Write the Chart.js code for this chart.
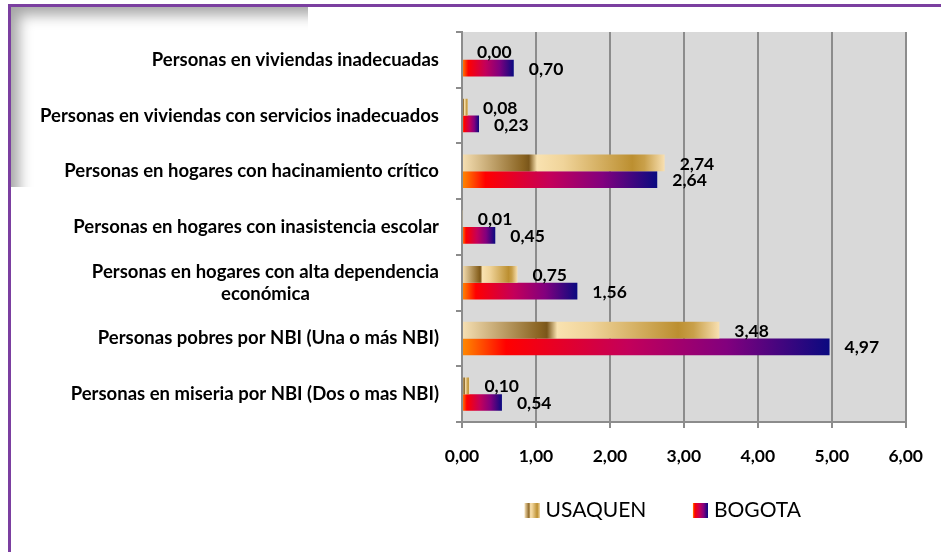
<!DOCTYPE html>
<html>
<head>
<meta charset="utf-8">
<script src="https://cdn.jsdelivr.net/npm/chart.js@4/dist/chart.umd.min.js"></script>
<style>
    html, body { margin: 0; padding: 0; background: #fff; }
    .frame { position: relative; width: 941px; height: 552px; overflow: hidden; }
    .frame .top-line { position: absolute; left: 8px; top: 4px; right: 0; height: 3px; background: #7b3fa0; }
    .frame .left-line { position: absolute; left: 8px; top: 4px; bottom: 0; width: 3px; background: #7b3fa0; }
    .frame .shade {
        position: absolute; left: 11px; top: 7px; width: 297px; height: 180px;
        box-shadow: inset 14px 14px 14px -6px rgba(0, 0, 0, 0.35);
    }
    canvas { position: absolute; left: 0; top: 0; }
</style>
</head>
<body>
<div class="frame">
    <div class="shade"></div>
    <div class="top-line"></div>
    <div class="left-line"></div>
    <canvas id="chart" width="941" height="552"></canvas>
</div>
<script>
const categories = [
    'Personas en viviendas inadecuadas',
    'Personas en viviendas con servicios inadecuados',
    'Personas en hogares con hacinamiento crítico',
    'Personas en hogares con inasistencia escolar',
    ['Personas en hogares con alta dependencia', 'económica'],
    'Personas pobres por NBI (Una o más NBI)',
    'Personas en miseria por NBI (Dos o mas NBI)',
];
const usaquen = [0.00, 0.08, 2.74, 0.01, 0.75, 3.48, 0.10];
const bogota = [0.70, 0.23, 2.64, 0.45, 1.56, 4.97, 0.54];
const seriesNames = ['USAQUEN', 'BOGOTA'];

const FONT = 'Lato, "Open Sans", sans-serif';

// colour stops along each bar (0 = axis, 1 = bar end)
const GOLD_STOPS = [
    [0, '#f6e0b4'], [0.30, '#8a6422'], [0.33, '#7a561a'], [0.37, '#f9e2b0'],
    [0.50, '#f0d49a'], [0.84, '#bc8f30'], [0.90, '#c9a04a'], [1, '#f8e0b2'],
];
const FIRE_STOPS = [
    [0, '#ff8a00'], [0.12, '#ff0000'], [0.45, '#c4005a'], [0.72, '#82007e'], [1, '#0a0a80'],
];

const fmt = (v) => v.toFixed(2).replace('.', ',');

function barGradient(stops) {
    return (ctx) => {
        const chart = ctx.chart;
        if (!chart.chartArea || ctx.type !== 'data') return stops[0][1];
        const x = chart.scales.x;
        const x0 = x.getPixelForValue(0);
        const x1 = Math.max(x.getPixelForValue(ctx.raw), x0 + 1);
        const g = chart.ctx.createLinearGradient(x0, 0, x1, 0);
        stops.forEach(([p, c]) => g.addColorStop(p, c));
        return g;
    };
}

// legend swatch: 15px square on the right of a wider transparent image (sets the spacing)
function swatch(stops) {
    const c = document.createElement('canvas');
    c.width = 38;
    c.height = 15;
    const cx = c.getContext('2d');
    const g = cx.createLinearGradient(23, 0, 38, 0);
    stops.forEach(([p, col]) => g.addColorStop(p, col));
    cx.fillStyle = g;
    cx.fillRect(23, 0, 15, 15);
    return c;
}

const plotBackground = {
    id: 'plotBackground',
    beforeDraw(chart) {
        const { ctx, chartArea: a } = chart;
        ctx.save();
        ctx.fillStyle = '#d9d9d9';
        ctx.fillRect(a.left, a.top, a.right - a.left, a.bottom - a.top);
        ctx.restore();
    },
};

const categoryLabels = {
    id: 'categoryLabels',
    afterDraw(chart) {
        const { ctx, chartArea } = chart;
        const y = chart.scales.y;
        const right = chartArea.left - 23;
        ctx.save();
        ctx.font = `bold 18.5px ${FONT}`;
        ctx.fillStyle = '#000';
        ctx.textBaseline = 'middle';
        ctx.textAlign = 'center';
        categories.forEach((label, i) => {
            const lines = Array.isArray(label) ? label : [label];
            const w = Math.max(...lines.map((l) => ctx.measureText(l).width));
            const cy = y.getPixelForValue(i);
            const lh = 22;
            lines.forEach((l, j) => {
                ctx.fillText(l, right - w / 2, cy + (j - (lines.length - 1) / 2) * lh);
            });
        });
        ctx.restore();
    },
};

const valueLabels = {
    id: 'valueLabels',
    afterDatasetsDraw(chart) {
        const { ctx } = chart;
        ctx.save();
        ctx.font = `bold 17.5px ${FONT}`;
        ctx.fillStyle = '#000';
        ctx.textBaseline = 'middle';
        ctx.textAlign = 'left';
        chart.data.datasets.forEach((ds, di) => {
            chart.getDatasetMeta(di).data.forEach((bar, i) => {
                ctx.fillText(fmt(ds.data[i]), bar.x + 15, bar.y + 1);
            });
        });
        ctx.restore();
    },
};

new Chart(document.getElementById('chart'), {
    type: 'bar',
    data: {
        labels: categories,
        datasets: [
            {
                label: seriesNames[0],
                data: usaquen,
                backgroundColor: barGradient(GOLD_STOPS),
                barPercentage: 1,
                categoryPercentage: 0.6,
            },
            {
                label: seriesNames[1],
                data: bogota,
                backgroundColor: barGradient(FIRE_STOPS),
                barPercentage: 1,
                categoryPercentage: 0.6,
            },
        ],
    },
    options: {
        indexAxis: 'y',
        responsive: false,
        animation: false,
        layout: {
            padding: { left: 398, right: 32, top: 32, bottom: 21 },
        },
        plugins: {
            tooltip: { enabled: false },
            legend: {
                position: 'bottom',
                labels: {
                    usePointStyle: true,
                    pointStyleWidth: 29,
                    padding: 28,
                    color: '#000',
                    font: { family: FONT, size: 21 },
                    generateLabels: () => [
                        { text: seriesNames[0], pointStyle: swatch(GOLD_STOPS), datasetIndex: 0, lineWidth: 0 },
                        { text: seriesNames[1], pointStyle: swatch(FIRE_STOPS), datasetIndex: 1, lineWidth: 0 },
                    ],
                },
            },
        },
        scales: {
            x: {
                min: 0,
                max: 6,
                afterFit: (s) => { s.height = 50; },
                ticks: {
                    stepSize: 1,
                    padding: 18,
                    color: '#000',
                    font: { family: FONT, size: 17.5, weight: 'bold' },
                    callback: (v) => fmt(v),
                },
                grid: { color: '#8c8c8c', lineWidth: 2, tickLength: 6 },
                border: { color: '#8c8c8c', width: 2 },
            },
            y: {
                afterFit: (s) => { s.width = 64; },
                ticks: { display: false },
                grid: {
                    offset: true,
                    drawOnChartArea: false,
                    color: '#8c8c8c',
                    lineWidth: 2,
                    tickLength: 6,
                },
                border: { color: '#8c8c8c', width: 2 },
            },
        },
    },
    plugins: [plotBackground, categoryLabels, valueLabels],
});
</script>
</body>
</html>
